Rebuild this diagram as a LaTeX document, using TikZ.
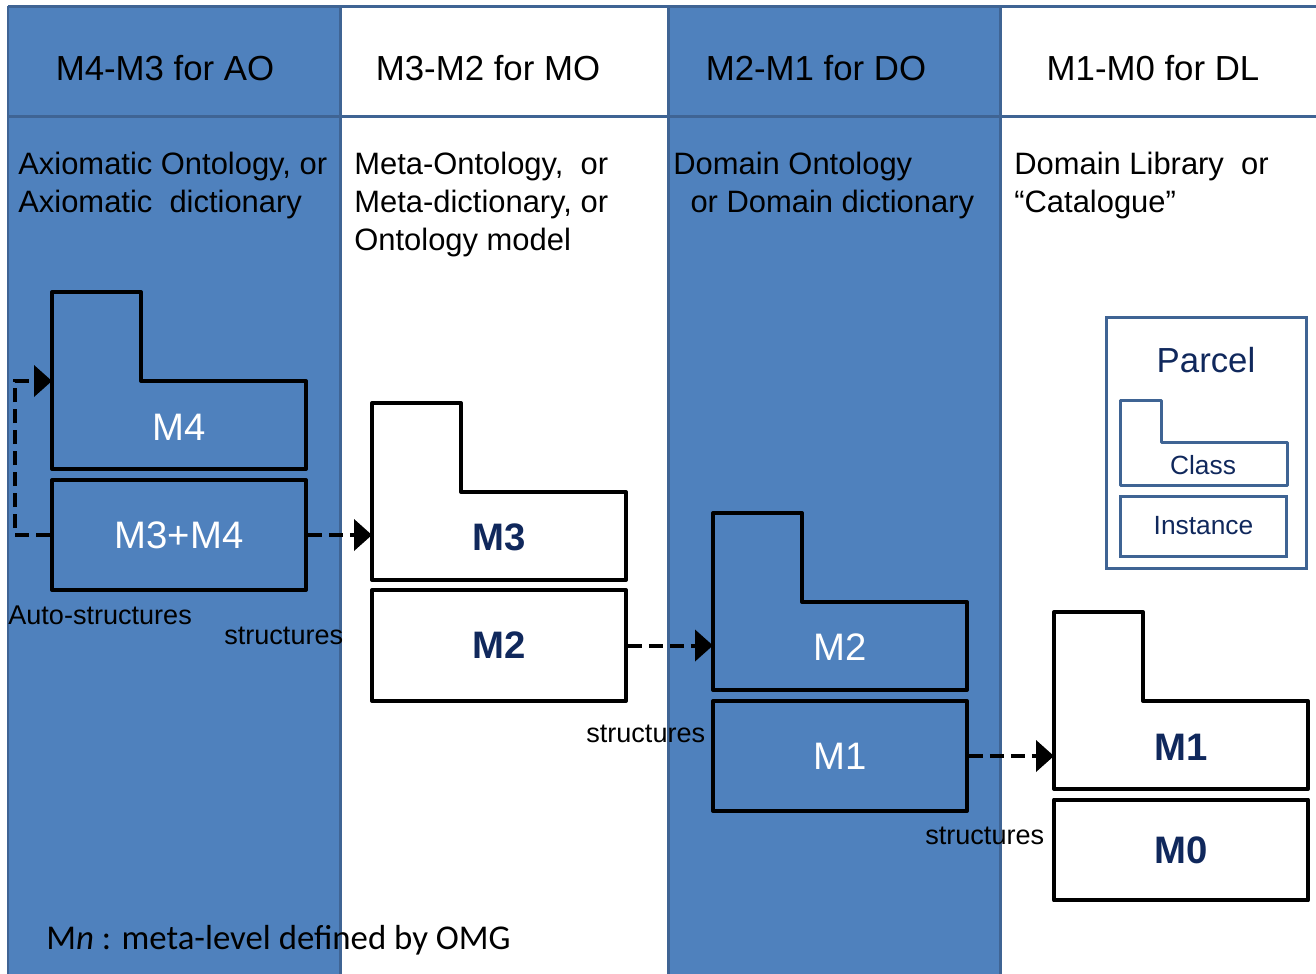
\documentclass[tikz,border=0pt]{standalone}
\usepackage{fontspec}
\setmainfont{Liberation Sans}
\newfontfamily\notefont{Carlito}
\usetikzlibrary{arrows.meta}

\definecolor{colblue}{HTML}{4F81BD}
\definecolor{gridline}{HTML}{3F6494}
\definecolor{navy}{HTML}{10285C}

\tikzset{
  lvl/.style={draw=black,line width=0.08cm,line join=round},
  lvlbox/.style={lvl,minimum width=5.08cm,minimum height=2.2cm,inner sep=0pt},
  link/.style={line width=0.08cm,dash pattern=on 0.28cm off 0.14cm,-{Triangle[length=0.36cm,width=0.62cm]}},
  hdr/.style={font=\fontsize{19.8}{24}\selectfont},
  desc/.style={font=\fontsize{17.6}{21.6}\selectfont,align=left,anchor=north west,inner sep=0pt},
  bluelbl/.style={text=white,font=\fontsize{21.8}{26}\selectfont},
  whitelbl/.style={text=navy,font=\fontsize{21.8}{26}\selectfont\bfseries},
  small/.style={font=\fontsize{15.4}{18}\selectfont,inner sep=0pt}
}
\newcommand{\classshape}[2][lvl]{%
  \draw[#1] #2 -- ++(89,0) -- ++(0,89) -- ++(165,0) -- ++(0,88) -- ++(-254,0) -- cycle;}

\begin{document}
\begin{tikzpicture}[x=0.02cm,y=-0.02cm]
  \useasboundingbox (0,0) rectangle (1316,974);
  \fill[colblue] (8,6) rectangle (340,980);
  \fill[colblue] (668,6) rectangle (1000,980);
  \draw[gridline,line width=0.06cm] (8,6) -- (1320,6);
  \draw[gridline,line width=0.06cm] (8,116) -- (1320,116);
  \draw[gridline,line width=0.06cm] (8,6) -- (8,980);
  \draw[gridline,line width=0.06cm] (340,6) -- (340,980);
  \draw[gridline,line width=0.06cm] (668,6) -- (668,980);
  \draw[gridline,line width=0.06cm] (1000,6) -- (1000,980);

  \node[hdr] (h1) at (165,68) {M4-M3 for AO};
  \node[hdr] (h2) at (488,68) {M3-M2 for MO};
  \node[hdr] (h3) at (816,68) {M2-M1 for DO};
  \node[hdr] (h4) at (1153,68) {M1-M0 for DL};

  \node[desc] (d1) at (18,152) {Axiomatic Ontology, or\\Axiomatic\ \ dictionary};
  \node[desc] (d2) at (354,152) {Meta-Ontology,\ \ or\\Meta-dictionary, or\\Ontology model};
  \node[desc] (d3) at (673,152) {Domain Ontology\\\ \ or Domain dictionary};
  \node[desc] (d4) at (1014,152) {Domain Library\ \ or\\``Catalogue''};

  \classshape{(52,292)}
  \node[bluelbl] (m4) at (179,427) {M4};
  \node[lvlbox,bluelbl] (m34) at (179,535) {M3+M4};
  \coordinate (m4in) at (52,381);

  \classshape{(372,403)}
  \node[whitelbl] (m3) at (499,537) {M3};
  \node[lvlbox,whitelbl,minimum height=2.22cm] (m2w) at (499,645.5) {M2};
  \coordinate (m3in) at (372,535);

  \classshape{(713,513)}
  \node[bluelbl] (m2b) at (840,647) {M2};
  \node[lvlbox,bluelbl] (m1b) at (840,756) {M1};
  \coordinate (m2in) at (713,645.5);

  \classshape{(1054,612)}
  \node[whitelbl] (m1w) at (1181,747) {M1};
  \node[lvlbox,whitelbl,minimum height=2.02cm] (m0) at (1181,850) {M0};
  \coordinate (m1in) at (1054,756);

  \draw[link] (m34.west) -- ++(-35,0) |- (m4in);
  \draw[link] (m34.east) -- (m3in);
  \draw[link] (m2w.east) -- (m2in);
  \draw[link] (m1b.east) -- (m1in);

  \node[small,anchor=west] (auto) at (8,615) {Auto-structures};
  \node[small,anchor=west] (s1) at (224,636) {structures};
  \node[small,anchor=west] (s2) at (586,734) {structures};
  \node[small,anchor=west] (s3) at (925,836) {structures};

  \node[draw=gridline,line width=0.06cm,minimum width=4.02cm,minimum height=5.04cm] (parcel) at (1206.5,443) {};
  \node[text=navy,font=\fontsize{19.8}{24}\selectfont] (ptitle) at (1206,360) {Parcel};
  \draw[gridline,line width=0.06cm,line join=round] (1120,400) -- (1161,400) -- (1161,442) -- (1287,442) -- (1287,485) -- (1120,485) -- cycle;
  \node[text=navy,font=\fontsize{15}{18}\selectfont] (cls) at (1203,465) {Class};
  \node[draw=gridline,line width=0.06cm,minimum width=3.34cm,minimum height=1.2cm,text=navy,font=\fontsize{15}{18}\selectfont] (inst) at (1203.5,526) {Instance};

  \node[anchor=west,inner sep=0pt,font=\notefont\fontsize{19.8}{24}\selectfont] (note) at (46,940) {M\textit{n} : meta-level defined by OMG};
\end{tikzpicture}
\end{document}
